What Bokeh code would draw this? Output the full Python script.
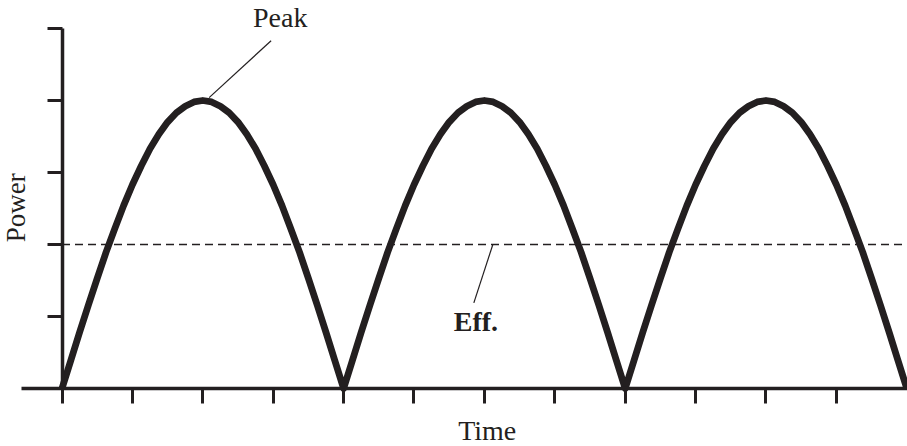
import math
from bokeh.plotting import figure
from bokeh.models import Range1d, FixedTicker, Label
from bokeh.embed import file_html
from bokeh.resources import INLINE

# ---- data ----
time = [0.0, 0.125, 0.25, 0.375, 0.5, 0.625, 0.75, 0.875, 1.0, 1.125, 1.25, 1.375, 1.5, 1.625, 1.75, 1.875,
        2.0, 2.125, 2.25, 2.375, 2.5, 2.625, 2.75, 2.875, 3.0, 3.125, 3.25, 3.375, 3.5, 3.625, 3.75, 3.875,
        4.0, 4.125, 4.25, 4.375, 4.5, 4.625, 4.75, 4.875, 5.0, 5.125, 5.25, 5.375, 5.5, 5.625, 5.75, 5.875,
        6.0, 6.125, 6.25, 6.375, 6.5, 6.625, 6.75, 6.875, 7.0, 7.125, 7.25, 7.375, 7.5, 7.625, 7.75, 7.875,
        8.0, 8.125, 8.25, 8.375, 8.5, 8.625, 8.75, 8.875, 9.0, 9.125, 9.25, 9.375, 9.5, 9.625, 9.75, 9.875,
        10.0, 10.125, 10.25, 10.375, 10.5, 10.625, 10.75, 10.875, 11.0, 11.125, 11.25, 11.375, 11.5, 11.625, 11.75, 11.875,
        12.0]
power = [0.0, 0.39, 0.78, 1.16, 1.53, 1.89, 2.22, 2.54, 2.83, 3.09, 3.33, 3.53, 3.70, 3.83, 3.92, 3.98,
         4.00, 3.98, 3.92, 3.83, 3.70, 3.53, 3.33, 3.09, 2.83, 2.54, 2.22, 1.89, 1.53, 1.16, 0.78, 0.39,
         0.0, 0.39, 0.78, 1.16, 1.53, 1.89, 2.22, 2.54, 2.83, 3.09, 3.33, 3.53, 3.70, 3.83, 3.92, 3.98,
         4.00, 3.98, 3.92, 3.83, 3.70, 3.53, 3.33, 3.09, 2.83, 2.54, 2.22, 1.89, 1.53, 1.16, 0.78, 0.39,
         0.0, 0.39, 0.78, 1.16, 1.53, 1.89, 2.22, 2.54, 2.83, 3.09, 3.33, 3.53, 3.70, 3.83, 3.92, 3.98,
         4.00, 3.98, 3.92, 3.83, 3.70, 3.53, 3.33, 3.09, 2.83, 2.54, 2.22, 1.89, 1.53, 1.16, 0.78, 0.39,
         0.0]
eff_level = 2.0
peak_time = 2.0
peak_level = 4.0
x_ticks = [0, 1, 2, 3, 4, 5, 6, 7, 8, 9, 10, 11]
y_ticks = [1, 2, 3, 4, 5]
x_title = "Time"
y_title = "Power"
peak_label = "Peak"
eff_label = "Eff."

INK = "#231f20"
FONT = "Liberation Serif"

p = figure(width=907, height=446, output_backend="svg", toolbar_location=None,
           x_range=Range1d(-0.8736, 12.01), y_range=Range1d(-0.8056, 5.389),
           min_border_left=0, min_border_right=0, min_border_top=0, min_border_bottom=0)
p.outline_line_color = None
p.xgrid.visible = False
p.ygrid.visible = False
p.background_fill_color = "white"
p.border_fill_color = "white"

for ax in (p.xaxis[0], p.yaxis[0]):
    ax.axis_line_color = INK
    ax.axis_line_width = 3.5
    ax.major_tick_line_color = INK
    ax.major_tick_line_width = 3
    ax.major_tick_out = 15
    ax.major_tick_in = 0
    ax.minor_tick_line_color = None
    ax.major_label_standoff = 0
    ax.axis_label = None
    ax.fixed_location = 0

p.xaxis[0].ticker = FixedTicker(ticks=x_ticks)
p.xaxis[0].major_label_overrides = {t: "" for t in x_ticks}
p.xaxis[0].bounds = (-0.575, 12.01)
p.yaxis[0].ticker = FixedTicker(ticks=y_ticks)
p.yaxis[0].major_label_overrides = {t: "" for t in y_ticks}
p.yaxis[0].bounds = (0, y_ticks[-1])

# effective (average) level
p.segment(x0=time[0], x1=time[-1], y0=eff_level, y1=eff_level,
          line_color=INK, line_width=1.4, line_dash="8 5")

# power curve
p.line(time, power, line_color=INK, line_width=6.8, line_join="round")

# leader lines
p.segment(x0=peak_time + 0.09, y0=peak_level + 0.04, x1=peak_time + 0.97, y1=peak_level + 0.83,
          line_color=INK, line_width=1.2)
p.segment(x0=5.85, y0=1.19, x1=6.12, y1=eff_level,
          line_color=INK, line_width=1.2)

common = dict(text_baseline="alphabetic", text_font=FONT, text_color=INK, level="overlay")
p.add_layout(Label(x=3.10, y=5.153, text=peak_label, text_align="center",
                   text_font_size="28px", **common))
p.add_layout(Label(x=5.88, y=0.93, text=eff_label, text_align="center",
                   text_font_size="28px", text_font_style="bold", **common))
p.add_layout(Label(x=6.04, y=-0.59, text=x_title, text_align="center",
                   text_font_size="28px", **common))
p.add_layout(Label(x=-0.655, y=2.51, text=y_title, text_align="center", angle=math.pi / 2,
                   text_font_size="27px", **common))

open("out.html", "w").write(file_html(p, INLINE))
